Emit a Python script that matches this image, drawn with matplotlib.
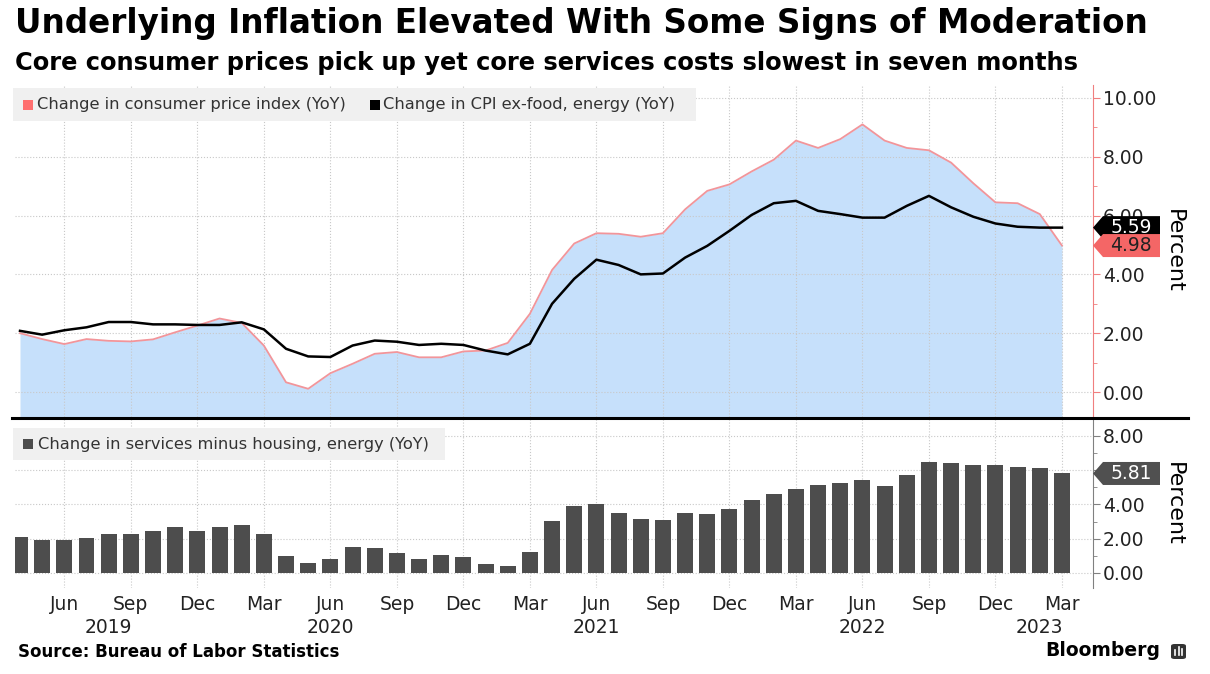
import matplotlib
matplotlib.use("Agg")
import matplotlib.pyplot as plt
import matplotlib.patches as mpatches
import matplotlib.lines as mlines
import pandas as pd

# monthly data, Apr 2019 - Mar 2023
months = pd.date_range("2019-04-01", "2023-03-01", freq="MS")

cpi = [2.0, 1.8, 1.63, 1.8, 1.74, 1.72, 1.79, 2.03, 2.26, 2.5, 2.35, 1.58,
       0.33, 0.11, 0.64, 0.96, 1.3, 1.36, 1.18, 1.18, 1.38, 1.41, 1.67, 2.66,
       4.15, 5.05, 5.4, 5.38, 5.28, 5.4, 6.21, 6.84, 7.06, 7.5, 7.9, 8.55,
       8.3, 8.6, 9.1, 8.55, 8.3, 8.22, 7.8, 7.1, 6.45, 6.42, 6.05, 4.98]
core = [2.08, 1.95, 2.1, 2.2, 2.38, 2.38, 2.3, 2.3, 2.28, 2.28, 2.37, 2.13,
        1.47, 1.21, 1.19, 1.58, 1.75, 1.71, 1.6, 1.64, 1.6, 1.41, 1.28, 1.64,
        3.0, 3.85, 4.5, 4.32, 4.0, 4.03, 4.57, 4.97, 5.48, 6.02, 6.42, 6.5,
        6.16, 6.05, 5.93, 5.93, 6.33, 6.67, 6.28, 5.96, 5.73, 5.62, 5.59, 5.59]
services = [2.1, 1.94, 1.94, 2.04, 2.25, 2.25, 2.48, 2.67, 2.48, 2.67, 2.83, 2.25,
            1.02, 0.58, 0.81, 1.54, 1.48, 1.19, 0.81, 1.04, 0.92, 0.52, 0.4, 1.25,
            3.06, 3.9, 4.05, 3.5, 3.17, 3.12, 3.5, 3.44, 3.73, 4.25, 4.6, 4.92,
            5.15, 5.27, 5.44, 5.1, 5.71, 6.5, 6.44, 6.29, 6.29, 6.21, 6.15, 5.81]

year_labels = ["2019", "2020", "2021", "2022", "2023"]
year_label_months = ["2019-08", "2020-06", "2021-06", "2022-06", "2023-02"]

title = "Underlying Inflation Elevated With Some Signs of Moderation"
subtitle = "Core consumer prices pick up yet core services costs slowest in seven months"
source = "Source: Bureau of Labor Statistics"

PINK_LINE = "#f2959a"
PINK_AXIS = "#f07f7f"
RED_TAG = "#f46666"
FILL = "#c6e0fb"
BAR = "#4d4d4d"
GRID = "#c8c8c8"

W, H = 1210, 674
fig = plt.figure(figsize=(W / 100, H / 100), dpi=100)


def px_rect(left, top, right, bottom):
    return [left / W, 1 - bottom / H, (right - left) / W, (bottom - top) / H]


ax1 = fig.add_axes(px_rect(15, 85, 1093, 417))
ax2 = fig.add_axes(px_rect(15, 419, 1093, 588))

x = list(range(len(months)))
tick_idx = [i for i, m in enumerate(months) if m.month in (3, 6, 9, 12)]
tick_lab = [months[i].strftime("%b") for i in tick_idx]

for ax in (ax1, ax2):
    ax.set_xlim(-0.2255, 48.4)
    ax.set_xticks(tick_idx)
    ax.grid(True, ls=":", color=GRID, lw=0.8)
    ax.set_axisbelow(True)
    for s in ("left", "top", "bottom"):
        ax.spines[s].set_visible(False)
    ax.yaxis.tick_right()
    ax.tick_params(axis="x", length=0)
    ax.tick_params(axis="y", which="major", length=5, labelsize=13.5, pad=2,
                   labelcolor="#222222")
    ax.tick_params(axis="y", which="minor", length=3)

# top panel
ax1.set_ylim(-0.85, 10.44)
ax1.fill_between(x, cpi, -0.85, color=FILL, lw=0, zorder=0)
ax1.plot(x, cpi, color=PINK_LINE, lw=1.3, zorder=2)
ax1.plot(x, core, color="black", lw=1.8, zorder=3)
ax1.set_yticks(range(0, 11, 2))
ax1.set_yticks(range(1, 11, 2), minor=True)
ax1.set_yticklabels([f"{v:.2f}" for v in range(0, 11, 2)])
ax1.spines["right"].set_color(PINK_AXIS)
ax1.tick_params(axis="y", which="both", color=PINK_AXIS)
ax1.tick_params(axis="x", labelbottom=False)

# bottom panel (the 6.00 label sits under the value tag)
ax2.set_ylim(-0.876, 8.99)
ax2.bar(x, services, width=0.72, color=BAR, zorder=2)
ax2.set_yticks(range(0, 9, 2))
ax2.set_yticks(range(1, 9, 2), minor=True)
ax2.set_yticklabels(["" if v == 6 else f"{v:.2f}" for v in range(0, 9, 2)])
ax2.spines["right"].set_color("#808080")
ax2.tick_params(axis="y", which="both", color="#808080")
ax2.set_xticklabels(tick_lab, fontsize=13.5, color="#222222")
ax2.tick_params(axis="x", pad=5)

trans = ax2.get_xaxis_transform()
for lab, m in zip(year_labels, year_label_months):
    i = list(months.strftime("%Y-%m")).index(m)
    ax2.text(i, -0.232, lab, transform=trans, ha="center", va="center",
             fontsize=13.5, color="#222222")

for ax in (ax1, ax2):
    ax.set_ylabel("Percent", rotation=270, fontsize=16, va="center")
    ax.yaxis.set_label_position("right")
    ax.yaxis.set_label_coords(1.084, 0.5)

# separator between the panels
fig.add_artist(mlines.Line2D([12 / W, 1188 / W], [1 - 418 / H] * 2,
                             color="black", lw=2.2))


def legend_box(left, top, right, bottom, items):
    fig.add_artist(mpatches.Rectangle((left / W, 1 - bottom / H),
                                      (right - left) / W, (bottom - top) / H,
                                      transform=fig.transFigure,
                                      facecolor="#f0f0f0", edgecolor="none"))
    yc = (top + bottom) / 2
    for sx, tx, col, txt in items:
        fig.add_artist(mpatches.Rectangle((sx / W, 1 - (yc + 5) / H), 10 / W, 10 / H,
                                          transform=fig.transFigure,
                                          facecolor=col, edgecolor="none"))
        fig.text(tx / W, 1 - yc / H, txt, fontsize=11.7, va="center",
                 color="#333333")


legend_box(13, 88, 696, 121,
           [(23, 37, "#ff6f6f", "Change in consumer price index (YoY)"),
            (370, 383, "black", "Change in CPI ex-food, energy (YoY)")])
legend_box(13, 428, 445, 460,
           [(23, 38, BAR, "Change in services minus housing, energy (YoY)")])


def value_tag(ax, value, face, color, h=23):
    y = ax.transData.transform((0, value))[1]
    pts = [(1093, y), (1103, y + h / 2), (1160, y + h / 2),
           (1160, y - h / 2), (1103, y - h / 2)]
    fig.add_artist(mpatches.Polygon([(px / W, py / H) for px, py in pts],
                                    closed=True, transform=fig.transFigure,
                                    facecolor=face, edgecolor="none"))
    fig.text(1131 / W, y / H, f"{value:.2f}", fontsize=13.5, color=color,
             ha="center", va="center")


value_tag(ax1, core[-1], "black", "white")
value_tag(ax1, cpi[-1], RED_TAG, "#222222")
value_tag(ax2, services[-1], "#505050", "white")

fig.text(15 / W, 1 - 33 / H, title, fontsize=23.5, fontweight="bold",
         va="baseline")
fig.text(15 / W, 1 - 70 / H, subtitle, fontsize=17.4, fontweight="bold",
         va="baseline")
fig.text(18 / W, 1 - 657 / H, source, fontsize=12, fontweight="bold",
         va="baseline")
fig.text(1160 / W, 1 - 656 / H, "Bloomberg", fontsize=13.5, fontweight="bold",
         ha="right", va="baseline")

# small logo mark next to Bloomberg
fig.add_artist(mpatches.FancyBboxPatch((1171 / W, 1 - 659 / H), 15 / W, 15 / H,
                                       boxstyle="round,pad=0,rounding_size=0.003",
                                       transform=fig.transFigure,
                                       facecolor="#333333", edgecolor="none"))
for bx, bh in [(1175, 5), (1178.5, 8), (1182, 6)]:
    fig.add_artist(mlines.Line2D([bx / W] * 2, [1 - 655 / H, 1 - (655 - bh) / H],
                                 color="white", lw=1.2))

fig.savefig("out.png", dpi=100)
